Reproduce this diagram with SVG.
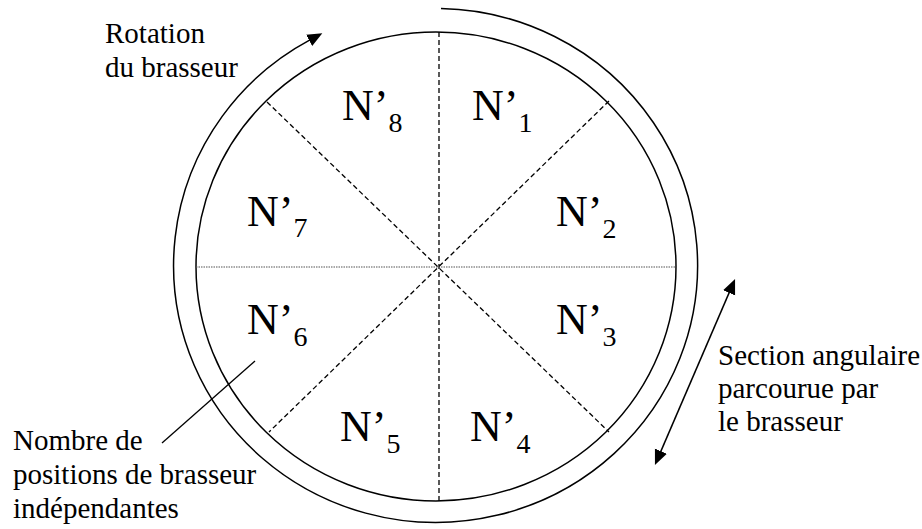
<svg xmlns="http://www.w3.org/2000/svg" width="922" height="529" viewBox="0 0 922 529">
<style>
.ln{fill:none;stroke:#000;stroke-width:1.5}
.dash{fill:none;stroke:#000;stroke-width:1.3;stroke-dasharray:5,3}
.dot{fill:none;stroke:#555;stroke-width:1.2;stroke-dasharray:1.5,1}
.lbl{font-size:29px;fill:#000}
.n{font-size:44px;fill:#000}
.sub{font-size:28px}
</style>
<defs>
<marker id="ah" markerUnits="userSpaceOnUse" markerWidth="16" markerHeight="14" refX="1" refY="6.5" orient="auto-start-reverse">
<path d="M0,0 L15,6.5 L0,13 z" fill="#000"/>
</marker>
</defs>
<rect width="922" height="529" fill="#fff"/>
<g id="disc">
<ellipse class="ln" cx="436" cy="266.5" rx="240" ry="234.5"/>
<line class="dash" x1="439" y1="32" x2="439" y2="501"/>
<line class="dot" x1="196" y1="267" x2="676" y2="267"/>
<line class="dash" x1="267" y1="102" x2="609" y2="432"/>
<line class="dash" x1="609" y1="101" x2="269" y2="432"/>
</g>
<g font-family="Liberation Serif, DejaVu Serif, serif">
<g id="n1"><text class="n" x="472" y="120">N’<tspan class="sub" dy="12">1</tspan></text></g>
<g id="n2"><text class="n" x="556" y="226">N’<tspan class="sub" dy="12">2</tspan></text></g>
<g id="n3"><text class="n" x="556" y="334">N’<tspan class="sub" dy="12">3</tspan></text></g>
<g id="n4"><text class="n" x="470" y="441">N’<tspan class="sub" dy="12">4</tspan></text></g>
<g id="n5"><text class="n" x="340" y="441">N’<tspan class="sub" dy="12">5</tspan></text></g>
<g id="n6"><text class="n" x="247" y="334">N’<tspan class="sub" dy="12">6</tspan></text></g>
<g id="n7"><text class="n" x="247" y="226">N’<tspan class="sub" dy="11">7</tspan></text></g>
<g id="n8"><text class="n" x="342" y="120">N’<tspan class="sub" dy="12">8</tspan></text></g>
</g>
<g id="connectors">
<path class="ln" d="M441,8.5 A262,257 0 1 1 310,39.9" marker-end="url(#ah)"/>
<line class="ln" x1="729.5" y1="291.9" x2="660.5" y2="452.1" marker-start="url(#ah)" marker-end="url(#ah)"/>
<line class="ln" x1="162" y1="443" x2="255" y2="361" style="stroke-width:1.3"/>
</g>
<g id="labels" font-family="Liberation Serif, DejaVu Serif, serif">
<text class="lbl" x="105" y="43">Rotation</text>
<text class="lbl" x="105" y="77">du brasseur</text>
<text class="lbl" x="718" y="365">Section angulaire</text>
<text class="lbl" x="718" y="398">parcourue par</text>
<text class="lbl" x="718" y="431">le brasseur</text>
<text class="lbl" x="13" y="450">Nombre de</text>
<text class="lbl" x="13" y="484">positions de brasseur</text>
<text class="lbl" x="13" y="518">indépendantes</text>
</g>
</svg>
